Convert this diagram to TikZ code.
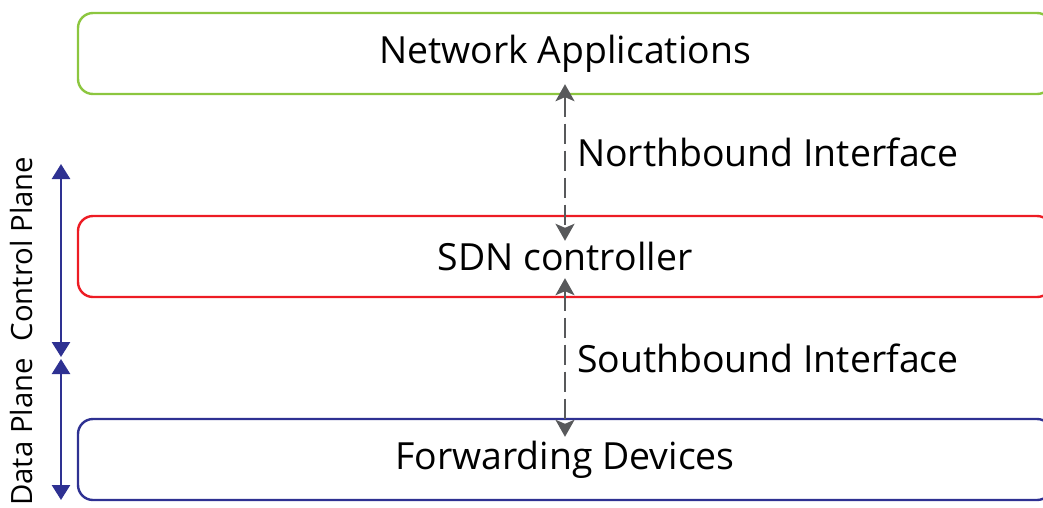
\documentclass[tikz,border=0pt]{standalone}
\usepackage{fontspec}
\setmainfont{Open Sans}
\usetikzlibrary{arrows.meta}

\definecolor{appgreen}{HTML}{8CC63F}
\definecolor{ctrlred}{HTML}{ED1C24}
\definecolor{devblue}{HTML}{2E3192}
\definecolor{ifgray}{HTML}{58595B}

\tikzset{
  layer/.style={draw, line width=2.4pt, rounded corners=15pt,
    minimum width=974pt, minimum height=81pt, inner sep=0pt,
    font=\fontsize{37.4}{40}\selectfont},
  iface/.style={ifgray, line width=2pt, dash pattern=on 20pt off 7pt,
    {Stealth[width=19pt,length=17pt,inset=4pt]}-{Stealth[width=19pt,length=17pt,inset=4pt]}},
  ifacelabel/.style={anchor=west, inner sep=0pt, font=\fontsize{37.4}{40}\selectfont},
  span/.style={devblue, line width=2.6pt,
    {Triangle[width=18pt,length=15pt]}-{Triangle[width=18pt,length=15pt]}},
  spanlabel/.style={rotate=90, inner sep=0pt, font=\fontsize{29.3}{31}\selectfont}
}

\begin{document}
\begin{tikzpicture}[x=1pt, y=-1pt]
  \useasboundingbox (0,0) rectangle (1043,507);
  \begin{scope}
    \clip (0,0) rectangle (1043,507);

    % three layers of the SDN stack
    \node[layer, draw=appgreen] (apps) at (565,53.5) {Network Applications};
    \node[layer, draw=ctrlred] (ctrl) at (565,256.5) {SDN controller};
    \node[layer, draw=devblue] (fwd) at (565,459.5) {Forwarding Devices};

    % interfaces between the layers
    \draw[iface] ([yshift=11pt]apps.south) -- ([yshift=-26pt]ctrl.north);
    \draw[iface] ([yshift=20pt]ctrl.south) -- ([yshift=-19pt]fwd.north);
    \node[ifacelabel] (nbi) at (577,152) {Northbound Interface};
    \node[ifacelabel] (sbi) at (577,358) {Southbound Interface};

    % plane extents on the left
    \coordinate (cpTop) at (61,164);
    \coordinate (cpBot) at (61,357);
    \coordinate (dpTop) at (61,359);
    \coordinate (dpBot) at (61,500);
    \draw[span] (cpTop) -- (cpBot);
    \draw[span] (dpTop) -- (dpBot);
    \node[spanlabel] (cp) at (22,249) {Control Plane};
    \node[spanlabel] (dp) at (22,432) {Data Plane};
  \end{scope}
\end{tikzpicture}
\end{document}
